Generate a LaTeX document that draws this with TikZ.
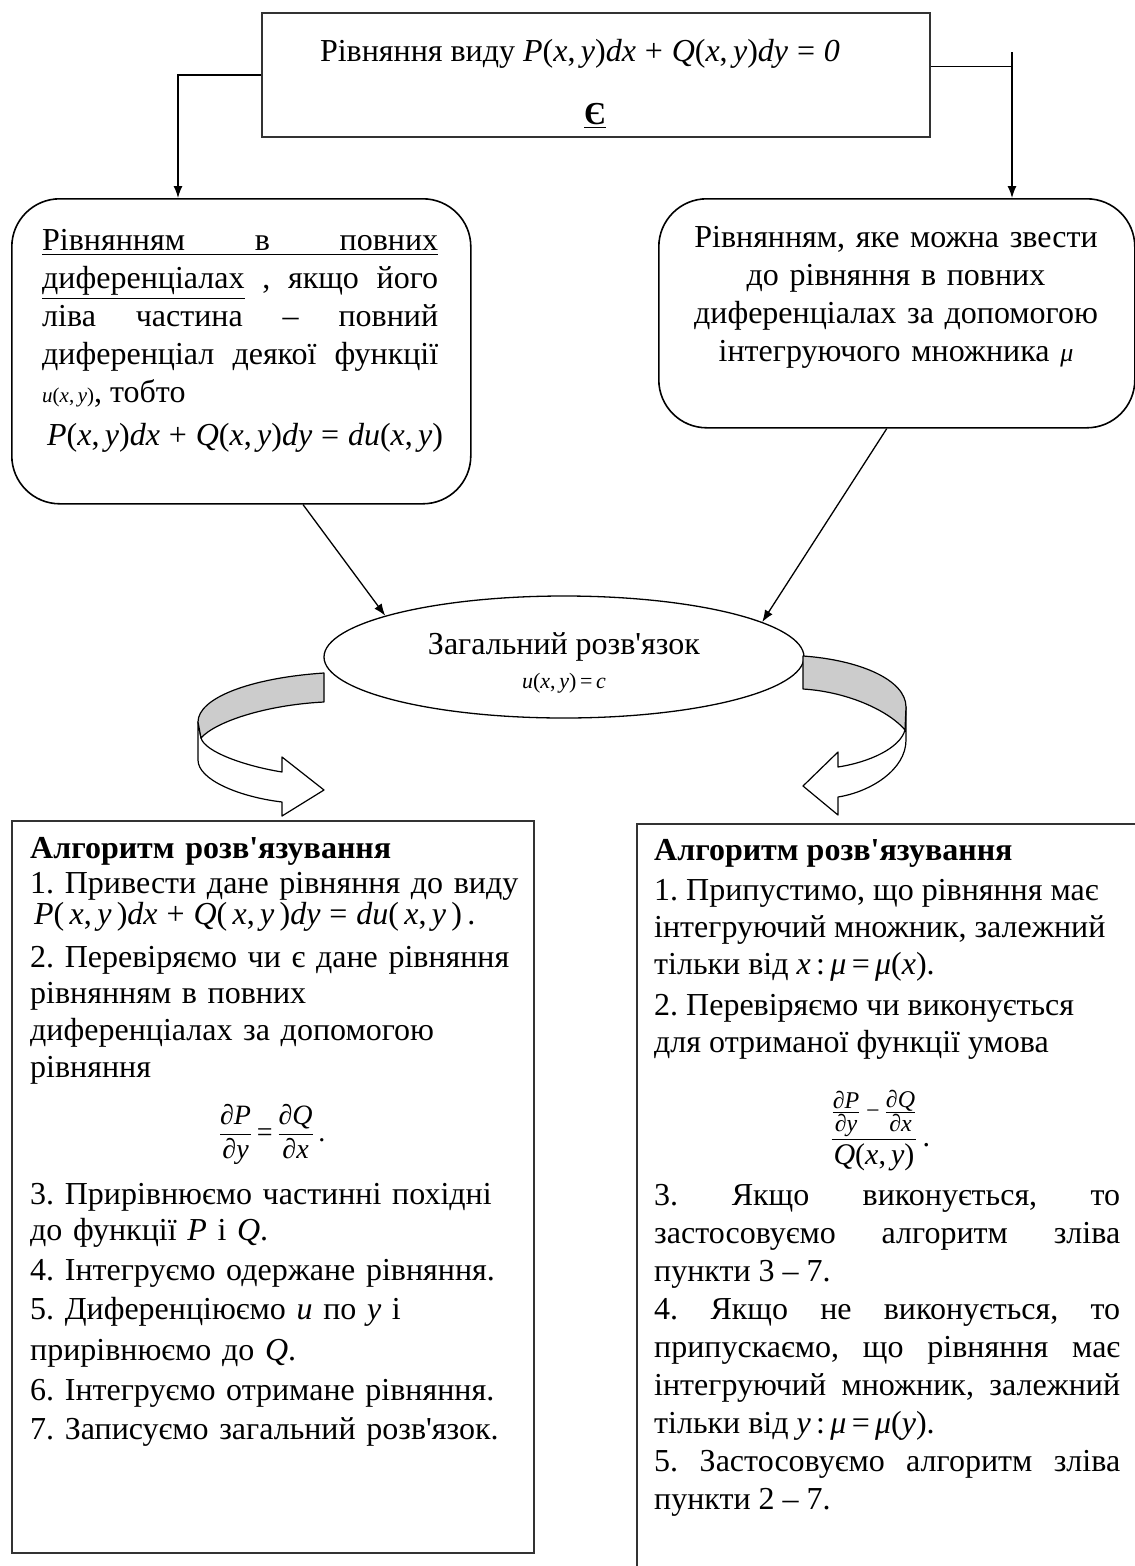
\documentclass[tikz,border=0pt]{standalone}
\usepackage{amsmath}
\usepackage{fontspec}
\setmainfont{Liberation Serif}
\usetikzlibrary{arrows.meta,shapes.geometric,calc}
\newcommand\bodyfont{\fontsize{32}{38}\selectfont\frenchspacing\lineskiplimit=-100pt\lineskip=0pt\relax}
\newcommand\apos{\textquotesingle}
\newcommand\iv[1]{\textit{#1}}
\newcommand\uxy{\iv{u}(\iv{x},\,\iv{y})}
\newcommand\fPQ{\iv{P}(\iv{x},\,\iv{y})\iv{dx}\;+\;\iv{Q}(\iv{x},\,\iv{y})\iv{dy}\;=\;}
\newcommand\tf[1]{\text{\itshape #1}}
\newcommand\tfs[1]{\text{\fontsize{24}{24}\selectfont\itshape #1}}
\tikzset{
  sqbox/.style={rectangle, draw=black!80, line width=2pt, inner sep=0pt},
  rbox/.style={rectangle, rounded corners=48pt, draw=black, line width=1.6pt, inner sep=0pt},
  txt/.style={inner sep=0pt, font=\bodyfont},
  conn/.style={line width=1.3pt, -{Latex[length=12pt,width=9pt]}},
  plainline/.style={line width=1.3pt},
  ribbonfront/.style={draw=black, fill=white, line width=1.2pt, line join=round},
  ribbonback/.style={draw=black, fill=black!20, line width=1.2pt, line join=round},
}
\begin{document}
\begin{tikzpicture}[x=1pt,y=-1pt]
\useasboundingbox (0,0) rectangle (1135,1566);
\clip (0,0) rectangle (1135,1566);
\fill[white] (0,0) rectangle (1135,1566);

% top box
\node[sqbox, anchor=north west, minimum width=668pt, minimum height=124pt] (top) at (261,12) {};
\node[txt, anchor=base] (toptext) at (580,61) {Рівняння виду \fPQ\iv{0}};
\node[txt, anchor=base] (ye) at (595,124) {\textbf{\underline{Є}}};

% rounded boxes
\node[rbox, anchor=north west, minimum width=459pt, minimum height=305pt] (lbox) at (11,198) {};
\node[rbox, anchor=north west, minimum width=476pt, minimum height=229pt] (rbox) at (658,198) {};

\node[txt, anchor=north west, text width=396pt, align=justify] (ltext) at (42,222) {%
\rule{0pt}{28pt}\underline{\hbox to 396pt{Рівнянням\hfill в\hfill повних}}\linebreak
\underline{диференціалах} , якщо його\linebreak
ліва частина – повний\linebreak
диференціал деякої функції\linebreak
{\fontsize{21}{38}\selectfont\uxy}, тобто\\[5pt]
\hspace*{5pt}\fPQ\iv{du}(\iv{x},\,\iv{y})};

\node[txt, anchor=north, text width=470pt, align=center] (rtext) at (896,219) {%
\rule{0pt}{28pt}Рівнянням, яке можна звести\\
до рівняння в повних\\
диференціалах за допомогою\\
інтегруючого множника {\fontsize{26}{38}\selectfont\itshape μ}};

% connectors from top box
\coordinate (la) at (178,198);
\draw[conn] (top.west) -| (la);
\coordinate (rj) at ($(top.north east)!0.43!(top.south east)$);
\coordinate (rstub) at (1012,52);
\draw[plainline] (rj) -- (rj -| rstub);
\draw[conn] (rstub) -- (rstub |- rbox.north);

% ellipse
\node[draw, ellipse, line width=1.3pt, minimum width=480pt, minimum height=122pt, inner sep=0pt, align=center, font=\bodyfont] (ell) at (564,657)
  {\rule{0pt}{34pt}Загальний розв\apos язок\\[-4pt]{\fontsize{22}{22}\selectfont\uxy\,=\,\iv{c}}};

\draw[conn] ($(lbox.south west)!0.634!(lbox.south east)$) -- (ell.167);
\draw[conn] ($(rbox.south west)!0.479!(rbox.south east)$) -- (ell.10);

% bottom boxes
\node[sqbox, anchor=north west, minimum width=522pt, minimum height=732pt] (lalg) at (11,820) {};
\node[sqbox, anchor=north west, minimum width=540pt, minimum height=800pt] (ralg) at (636,823) {};

% left curved arrow
\draw[ribbonfront] (198,722) -- (198,760) .. controls (198,780) and (240,797) .. (282,802)
  -- (282,816) -- (324,790) -- (282,757) -- (282,772)
  .. controls (245,766) and (205,752) .. (201,738) -- cycle;
\draw[ribbonback] (324,673) .. controls (250,678) and (198,698) .. (198,722)
  -- (201,738) .. controls (215,722) and (265,705) .. (324,702) -- cycle;

% right curved arrow
\draw[ribbonfront] (906,707) -- (906,740) .. controls (906,770) and (870,792) .. (838,797)
  -- (838,815) -- (803,786) -- (838,752) -- (838,767)
  .. controls (870,762) and (900,748) .. (905,730) -- cycle;
\draw[ribbonback] (803,656) .. controls (860,660) and (906,680) .. (906,707)
  -- (905,730) .. controls (890,712) and (850,692) .. (803,689) -- cycle;

% bottom-left text
\node[txt, anchor=north west, text width=495pt, align=left] (lalgtext) at (30,830) {%
\rule{0pt}{28pt}\textbf{Алгоритм розв\apos язування}\\[-3pt]
1. Привести дане рівняння до виду\\[-7pt]
\hspace*{4pt}\iv{P}(\,\iv{x},\,\iv{y}\,)\iv{dx}\;+\;\iv{Q}(\,\iv{x},\,\iv{y}\,)\iv{dy}\;=\;\iv{du}(\,\iv{x},\,\iv{y}\,)\,.\\[5pt]
2. Перевіряємо чи є дане рівняння\\[-2pt]
рівнянням в повних\\[-1pt]
диференціалах за допомогою\\[-1pt]
рівняння\\[26pt]
\makebox[484pt][c]{\fontsize{28}{38}\selectfont$\displaystyle\frac{\tf{∂P}}{\tf{∂y}}\text{\,=\,}\frac{\tf{∂Q}}{\tf{∂x}}$\,.}\\[25pt]
3. Прирівнюємо частинні похідні\\[-2pt]
до функції \iv{P} і \iv{Q}.\\[2pt]
4. Інтегруємо одержане рівняння.\\[1pt]
5. Диференціюємо \iv{u} по \iv{y} і\\[3pt]
прирівнюємо до \iv{Q}.\\[2pt]
6. Інтегруємо отримане рівняння.\\[1pt]
7. Записуємо загальний розв\apos язок.};

% bottom-right text
\node[txt, anchor=north west, text width=466pt, align=justify] (ralgtext) at (654,832) {%
\rule{0pt}{28pt}\textbf{Алгоритм розв\apos язування}\\[2pt]
1. Припустимо, що рівняння має\\[-1pt]
інтегруючий множник, залежний\\[-1pt]
тільки від \iv{x}\,:\,\iv{μ}\,=\,\iv{μ}(\iv{x}).\\[3pt]
2. Перевіряємо чи виконується\\[-1pt]
для отриманої функції умова\\[56pt]
\makebox[466pt][c]{\hspace*{-14pt}\fontsize{30}{38}\selectfont$\displaystyle\frac{\frac{\tfs{∂P}}{\tfs{∂y}}\tfs{\,−\,}\frac{\tfs{∂Q}}{\tfs{∂x}}}{\text{\iv{Q}(\iv{x},\,\iv{y})}}$\,.}\\[21pt]
3. Якщо виконується, то\linebreak
застосовуємо алгоритм зліва\linebreak
пункти 3 – 7.\\
4. Якщо не виконується, то\linebreak
припускаємо, що рівняння має\linebreak
інтегруючий множник, залежний\linebreak
тільки від \iv{y}\,:\,\iv{μ}\,=\,\iv{μ}(\iv{y}).\\
5. Застосовуємо алгоритм зліва\linebreak
пункти 2 – 7.};
\end{tikzpicture}
\end{document}
